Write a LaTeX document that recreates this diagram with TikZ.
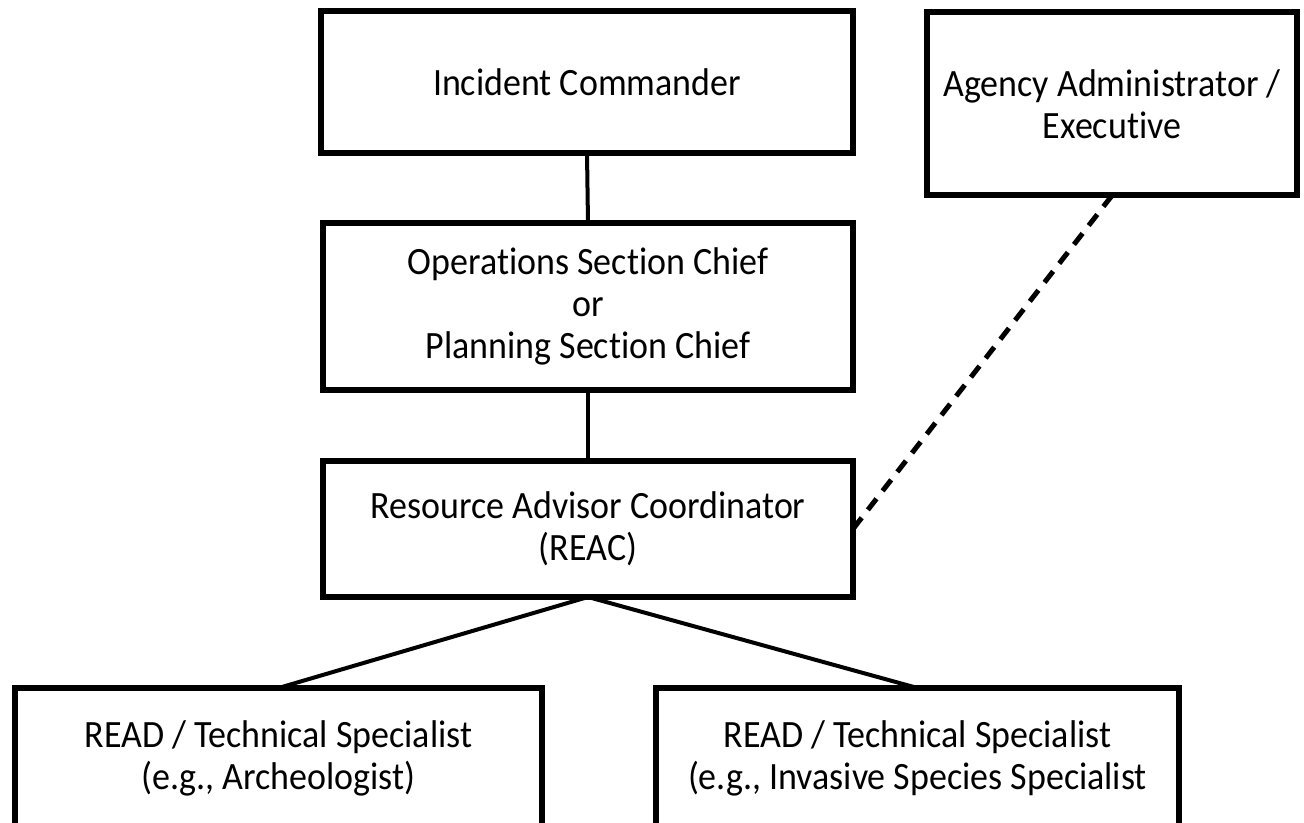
\documentclass[tikz,border=0pt]{standalone}
\usepackage{fontspec}
\setmainfont{Carlito}[FakeStretch=0.93, Ligatures=NoCommon]
\begin{document}
\begin{tikzpicture}[x=0.75pt, y=-0.75pt,
	box/.style={draw=black, line width=4.5pt, inner sep=0pt, outer sep=0pt, align=center,
		font=\fontsize{29}{31.5}\selectfont},
	link/.style={line width=3pt, draw=black},
	dashlink/.style={line width=3.75pt, draw=black, dash pattern=on 10.5pt off 7.5pt}]
	\useasboundingbox[fill=white] (0,0) rectangle (1304,823);
	\clip (0,0) rectangle (1304,823);

	\coordinate[](ic) at (587,82);
	\coordinate[](aa) at (1112,104);
	\coordinate[](op) at (588,306.5);
	\coordinate[](rc) at (588,529);
	\coordinate[](ra) at (278.5,758);
	\coordinate[](rb) at (917.5,758);

	%% Boxes
	\node[box, minimum width=399pt, minimum height=106.5pt] (commander) at (ic) {Incident Commander};
	\node[box, minimum width=277.5pt, minimum height=137.25pt] (agency) at (aa) {Agency Administrator /\\Executive};
	\node[box, minimum width=397.5pt, minimum height=125.25pt] (chief) at (op) {Operations Section Chief\\or\\Planning Section Chief};
	\node[box, minimum width=397.5pt, minimum height=102pt] (reac) at (rc) {Resource Advisor Coordinator\\(REAC)};
	\node[box, minimum width=395.5pt, minimum height=105pt] (readA) at (ra) {READ / Technical Specialist\\(e.g., Archeologist)};
	\node[box, minimum width=392.5pt, minimum height=105pt] (readB) at (rb) {READ / Technical Specialist\\(e.g., Invasive Species Specialist};

	%% Links
	\draw[link] (commander.south) -- (chief.north);
	\draw[link] (chief.south) -- (reac.north);
	\draw[link] (reac.south) -- (readA.north);
	\draw[link] (reac.south) -- (readB.north);
	%
	\draw[dashlink] (agency.south) -- (reac.east);

\end{tikzpicture}
\end{document}
